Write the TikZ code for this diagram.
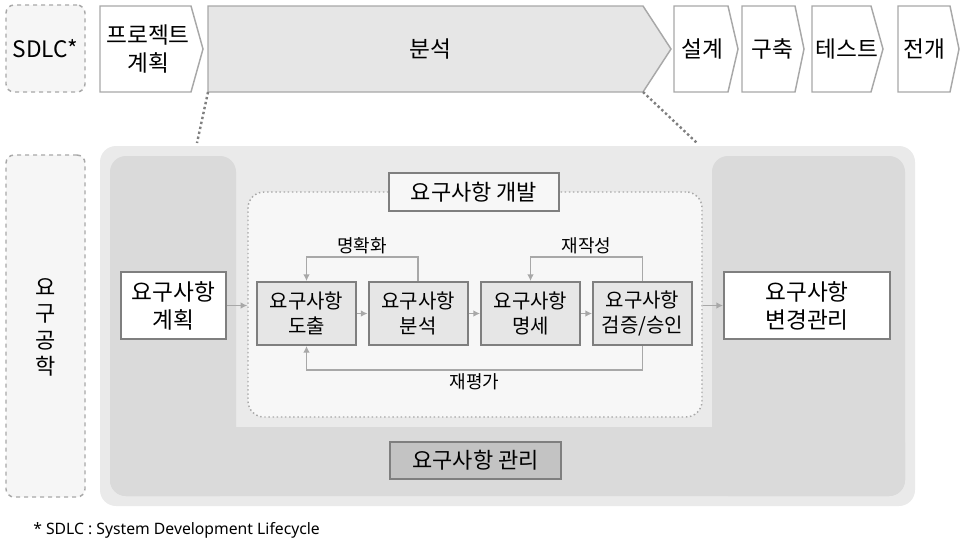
\documentclass[tikz,border=0pt]{standalone}
\usepackage{fontspec}
\setmainfont{Noto Sans CJK KR}
\newfontfamily\notefont{Noto Sans}
\usetikzlibrary{arrows.meta}

\definecolor{outerfill}{HTML}{EAEAEA}
\definecolor{panelfill}{HTML}{DADADA}
\definecolor{devfill}{HTML}{F7F7F7}
\definecolor{stepfill}{HTML}{E6E6E6}
\definecolor{mgmtfill}{HTML}{C3C3C3}
\definecolor{boxline}{HTML}{7F7F7F}
\definecolor{lightline}{HTML}{A8A8A8}
\definecolor{dashfill}{HTML}{F6F6F6}

\begin{document}
\begin{tikzpicture}[x=0.75pt,y=-0.75pt]
  \useasboundingbox (0,0) rectangle (967,550);
  \tikzstyle{phase}=[draw=lightline,line width=1.1pt,fill=white,line join=miter]
  \tikzstyle{phasetext}=[inner sep=0pt,align=center,font=\fontsize{17}{21}\selectfont]
  \tikzstyle{dashbox}=[draw=lightline,dashed,line width=1.1pt,fill=dashfill,rounded corners=6pt,inner sep=0pt]
  \tikzstyle{bigbox}=[draw=boxline,line width=1.5pt,fill=white,align=center,inner sep=0pt,
    minimum height=50.25pt,font=\fontsize{17}{21}\selectfont]
  \tikzstyle{stepbox}=[draw=boxline,line width=1.5pt,fill=stepfill,align=center,inner sep=0pt,
    minimum width=74.25pt,minimum height=47.25pt,font=\fontsize{15}{18.75}\selectfont]
  \tikzstyle{titlebox}=[draw=boxline,line width=1.5pt,inner sep=0pt,minimum height=28.5pt,
    minimum width=127.5pt,font=\fontsize{16.5}{19}\selectfont]
  \tikzstyle{flow}=[draw=lightline,line width=1.2pt,-{Latex[length=5pt,width=5pt]}]
  \tikzstyle{looplabel}=[font=\fontsize{13.5}{16}\selectfont,inner sep=2pt]

  % SDLC phases
  \path (45.5,48.5) node[dashbox,minimum width=59.25pt,minimum height=65.25pt,
    font=\fontsize{17}{21}\selectfont] (sdlc) {SDLC*};
  \draw[phase] (100,6) -- (191,6) -- (203,49) -- (191,92) -- (100,92) -- cycle;
  \draw[phase,fill=stepfill] (208,6) coordinate (anl) -- (643,6) -- (671,49)
    -- (643,92) coordinate (anbr) -- (208,92) coordinate (anbl) -- cycle;
  \draw[phase] (674,6) -- (728,6) -- (738,49) -- (728,92) -- (674,92) -- cycle;
  \draw[phase] (742,6) -- (795,6) -- (804,49) -- (795,92) -- (742,92) -- cycle;
  \draw[phase] (812,6) -- (871,6) -- (883,49) -- (871,92) -- (812,92) -- cycle;
  \draw[phase] (898,6) -- (950,6) -- (959,49) -- (950,92) -- (898,92) -- cycle;
  \path (148,49) node[phasetext] (plan0) {프로젝트\\계획};
  \path (430,49) node[phasetext] (anal0) {분석};
  \path (702,49) node[phasetext] (design) {설계};
  \path (772,49) node[phasetext] (build) {구축};
  \path (847,49) node[phasetext] (test) {테스트};
  \path (924,49) node[phasetext] (deploy) {전개};

  % requirements engineering
  \path (45.5,326) node[dashbox,minimum width=59.25pt,minimum height=256.5pt] (rebox) {};
  \path (45.5,327.5) node[align=center,inner sep=0pt,font=\fontsize{16.5}{19.7}\selectfont] (retext)
    {요\\구\\공\\학};
  \coordinate (zl) at (197,143);
  \coordinate (zr) at (697,143);
  \draw[dotted,line width=1.8pt,boxline] (anbl) -- (zl);
  \draw[dotted,line width=1.8pt,boxline] (anbr) -- (zr);

  \fill[outerfill,rounded corners=12pt] (100,146) rectangle (915,506);
  \fill[panelfill,rounded corners=12pt] (110,156) rectangle (236,496);
  \fill[panelfill,rounded corners=12pt] (712,156) rectangle (905,496);
  \fill[panelfill,rounded corners=12pt] (110,427) rectangle (905,496);
  \fill[panelfill] (110,427) rectangle (905,460);

  \path (475,304.5) node[draw=lightline,dotted,line width=1.1pt,fill=devfill,rounded corners=12pt,
    minimum width=340.5pt,minimum height=168.75pt] (dev) {};
  \path (474,192) node[titlebox,fill=devfill] (devtitle) {요구사항 개발};
  \path (475.5,460.5) node[titlebox,fill=mgmtfill,minimum height=27.75pt,minimum width=128.25pt] (mgmt)
    {요구사항 관리};

  \path (173.5,305.5) node[bigbox,minimum width=78.75pt] (plan) {요구사항\\계획};
  \path (807,305.5) node[bigbox,minimum width=124.5pt] (chg) {요구사항\\변경관리};

  \path (306.5,313.5) node[stepbox] (elic) {요구사항\\도출};
  \path (418,313.5) node[stepbox] (anal) {요구사항\\분석};
  \path (530.5,313.5) node[stepbox] (spec) {요구사항\\명세};
  \path (642.5,313.5) node[stepbox] (verif) {요구사항\\검증/승인};

  \draw[flow] (plan.east) -- (plan.east -| dev.west);
  \draw[flow] (elic) -- (anal);
  \draw[flow] (anal) -- (spec);
  \draw[flow] (spec) -- (verif);
  \draw[flow] (dev.east |- chg) -- (chg.west);

  \draw[flow] (anal.north) -- ++(0,-24) -| (elic.north)
    node[pos=0.25,above,looplabel] {명확화};
  \draw[flow] (verif.north) -- ++(0,-24) -| (spec.north)
    node[pos=0.25,above,looplabel] {재작성};
  \draw[flow] (verif.south) -- ++(0,24) -| (elic.south)
    node[pos=0.25,below,looplabel] {재평가};

  \path (33,530) node[anchor=west,inner sep=0pt,font=\notefont\fontsize{11.8}{14}\selectfont] (note)
    {* SDLC : System Development Lifecycle};
\end{tikzpicture}
\end{document}
